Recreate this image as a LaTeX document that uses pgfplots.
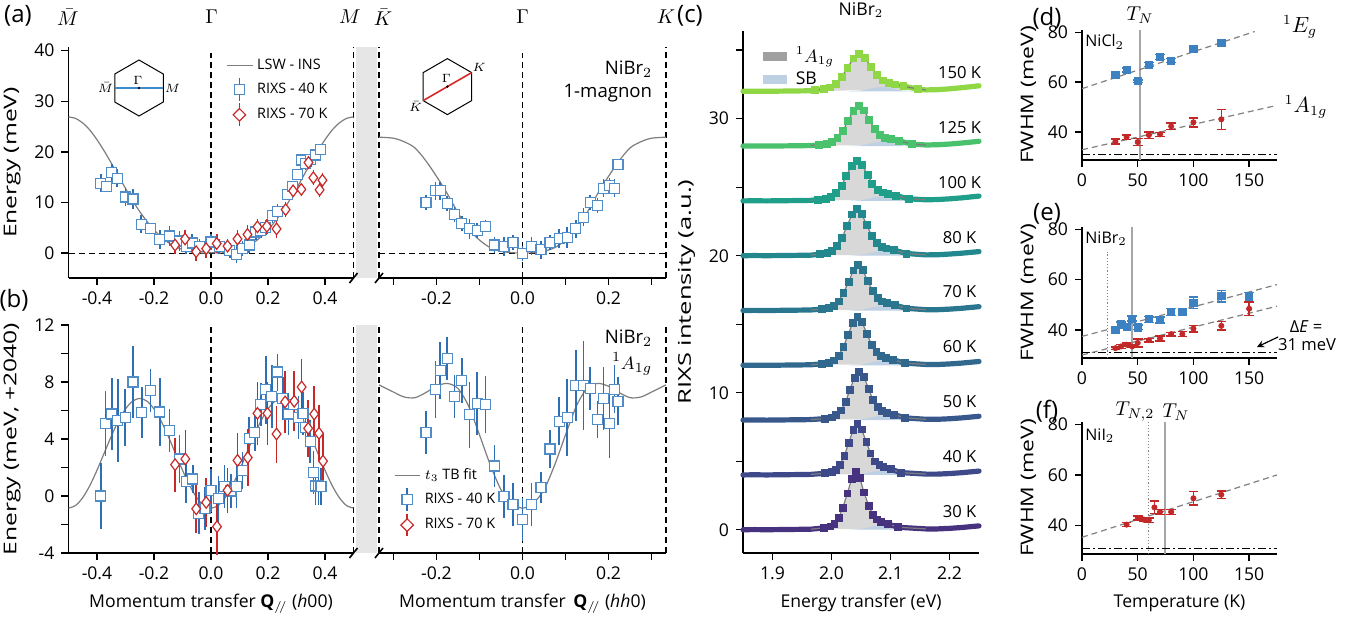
\documentclass[border=0pt]{standalone}
\usepackage{fontspec}
\setmainfont{Open Sans}
\usepackage{graphicx}
\usepackage{pgfplots}
\pgfplotsset{compat=1.18}
\usepackage{pgfplotstable}
\newcommand{\fs}[1]{\fontsize{#1}{#1}\selectfont}

\definecolor{bluem}{RGB}{80,140,200}
\definecolor{blueeb}{RGB}{45,110,180}
\definecolor{redm}{RGB}{200,40,40}
\definecolor{curvegray}{RGB}{125,125,125}
\definecolor{bandgray}{RGB}{230,230,230}
\definecolor{agray}{RGB}{216,216,216}
\definecolor{sbblue}{RGB}{190,208,228}
\definecolor{lgray}{RGB}{160,160,160}
\definecolor{hexblue}{RGB}{60,140,205}
\definecolor{hexred}{RGB}{215,40,40}
\definecolor{dblue}{RGB}{60,130,195}
\definecolor{dred}{RGB}{195,40,40}
\definecolor{c30}{RGB}{70,50,126}
\definecolor{c40}{RGB}{62,73,137}
\definecolor{c50}{RGB}{56,88,140}
\definecolor{c60}{RGB}{49,104,142}
\definecolor{c70}{RGB}{42,118,142}
\definecolor{c80}{RGB}{35,136,142}
\definecolor{c100}{RGB}{31,158,137}
\definecolor{c125}{RGB}{74,193,109}
\definecolor{c150}{RGB}{143,215,68}

\pgfplotsset{
  every axis/.append style={scale only axis,
    axis line style={line width=0.9pt},
    tick style={line width=0.7pt, black},
    major tick length=3.5pt, minor tick length=3.5pt, tick align=outside,
    tick label style={font=\fs{8.8}}, label style={font=\fs{8.8}},
    /pgf/number format/assume math mode=true},
  qaxis/.style={axis x line*=bottom, clip=false,
    xticklabel style={/pgf/number format/.cd,fixed,fixed zerofill,precision=1}},
  eb40/.style={only marks, mark=square*, mark size=2.5pt,
    mark options={draw=bluem, fill=white, line width=0.6pt},
    error bars/.cd, y dir=both, y explicit, error mark=none,
    error bar style={line width=0.8pt, blueeb}},
  eb70/.style={only marks, mark=diamond*, mark size=2.9pt,
    mark options={draw=redm, fill=white, line width=0.6pt},
    error bars/.cd, y dir=both, y explicit, error mark=none,
    error bar style={line width=0.8pt, redm}},
  fb/.style={only marks, mark=square*, mark size=1.8pt, color=dblue,
    error bars/.cd, y dir=both, y explicit,
    error bar style={line width=0.7pt},
    error mark options={rotate=90, mark size=2.4pt, line width=0.7pt}},
  fr/.style={only marks, mark=*, mark size=1.3pt, color=dred,
    error bars/.cd, y dir=both, y explicit,
    error bar style={line width=0.7pt},
    error mark options={rotate=90, mark size=2.4pt, line width=0.7pt}},
  faxis/.style={width=97.5pt, xmin=0, xmax=175, ymin=28.8, ymax=80.9,
    axis x line*=bottom, axis y line*=left, clip=false,
    xtick={0,50,100,150}, ytick={40,60,80}, ylabel={\scalebox{1.3}[1]{FWHM (meV)}},
    ylabel style={yshift=-1pt}},
}
\tikzset{dline/.style={black, line width=0.6pt, dash pattern=on 3pt off 2pt}}

% ---------- panel (a) ----------
\pgfplotstableread{
q e
-0.500 26.9
-0.475 26.6
-0.450 25.7
-0.425 24.3
-0.400 22.4
-0.375 20.2
-0.350 17.8
-0.325 15.3
-0.300 12.8
-0.275 10.4
-0.250 8.2
-0.225 6.3
-0.200 4.6
-0.175 3.2
-0.150 2.1
-0.125 1.3
-0.100 0.7
-0.075 0.3
-0.050 0.1
-0.025 0.05
0.000 0.1
0.025 0.05
0.050 0.1
0.075 0.3
0.100 0.7
0.125 1.3
0.150 2.1
0.175 3.2
0.200 4.6
0.225 6.3
0.250 8.2
0.275 10.4
0.300 12.8
0.325 15.3
0.350 17.8
0.375 20.2
0.400 22.4
0.425 24.3
0.450 25.7
0.475 26.6
0.500 26.9
}\curveA
\pgfplotstableread{
q e err
-0.387 13.8 1.8
-0.367 13.1 1.0
-0.348 15.9 1.8
-0.329 14.8 1.8
-0.300 11.1 1.8
-0.274 10.7 1.9
-0.245 5.7 1.8
-0.212 4.8 1.0
-0.180 2.7 1.8
-0.146 3.4 2.0
-0.111 2.4 2.0
-0.087 1.4 1.5
-0.066 2.0 1.8
-0.041 1.3 1.5
0.000 2.2 1.5
0.029 1.3 1.5
0.066 0.5 1.5
0.090 -0.2 1.8
0.111 0.9 1.5
0.134 1.6 1.5
0.157 4.2 1.5
0.175 4.5 1.5
0.192 5.1 1.5
0.216 7.5 1.5
0.233 8.3 1.5
0.269 11.6 1.0
0.286 13.1 1.2
0.303 15.6 1.0
0.318 18.4 1.0
0.332 17.7 1.2
0.350 18.5 1.5
0.367 19.4 1.5
0.385 20.4 1.0
}\aLblue
\pgfplotstableread{
q e err
-0.126 1.6 1.8
-0.091 2.8 1.8
-0.052 0.3 1.8
-0.017 0.9 1.8
0.020 1.9 1.8
0.058 1.4 1.5
0.093 2.8 1.8
0.128 3.7 1.8
0.163 5.2 1.5
0.196 5.3 1.5
0.230 4.8 1.8
0.262 8.6 1.5
0.288 12.3 1.3
0.317 12.6 1.3
0.342 17.9 1.3
0.359 14.9 1.5
0.381 12.5 1.5
0.391 14.4 1.5
}\aLred
\pgfplotstableread{
q e
-0.3333 22.9
-0.300 22.7
-0.275 22.0
-0.250 20.8
-0.225 18.3
-0.200 15.2
-0.175 11.8
-0.150 8.0
-0.125 4.8
-0.100 2.6
-0.075 1.1
-0.050 0.4
-0.025 0.1
0.000 0.05
0.025 0.1
0.050 0.4
0.075 1.1
0.100 2.6
0.125 4.8
0.150 8.0
0.175 11.8
0.200 15.2
0.225 18.3
0.250 20.8
0.275 22.0
0.300 22.7
0.3333 22.9
}\curveAR
\pgfplotstableread{
q e err
-0.224 10.0 1.5
-0.202 12.3 1.8
-0.191 12.3 1.8
-0.175 9.8 1.5
-0.158 7.6 1.5
-0.141 5.8 1.5
-0.123 4.8 2.0
-0.105 4.5 1.5
-0.086 5.3 1.2
-0.065 1.6 1.5
-0.043 1.3 1.8
-0.022 2.1 1.5
0.000 0.0 1.5
0.021 1.4 1.8
0.043 0.7 1.8
0.064 2.1 1.5
0.085 2.9 1.8
0.104 3.1 2.0
0.124 4.8 1.8
0.142 7.1 1.8
0.157 10.0 1.5
0.174 9.4 1.5
0.188 12.8 1.8
0.202 13.4 1.5
0.214 12.8 1.8
0.222 17.5 1.0
}\aRblue

% ---------- panel (b) ----------
\pgfplotstableread{
q e
-0.500 -0.85
-0.475 -0.66
-0.450 -0.11
-0.425 0.74
-0.400 1.81
-0.375 3.00
-0.350 4.19
-0.325 5.26
-0.300 6.11
-0.275 6.66
-0.250 6.85
-0.225 6.66
-0.200 6.11
-0.175 5.26
-0.150 4.19
-0.125 3.00
-0.100 1.81
-0.075 0.74
-0.050 -0.11
-0.025 -0.66
0.000 -0.85
0.025 -0.66
0.050 -0.11
0.075 0.74
0.100 1.81
0.125 3.00
0.150 4.19
0.175 5.26
0.200 6.11
0.225 6.66
0.250 6.85
0.275 6.66
0.300 6.11
0.325 5.26
0.350 4.19
0.375 3.00
0.400 1.81
0.425 0.74
0.450 -0.11
0.475 -0.66
0.500 -0.85
}\curveB
\pgfplotstableread{
q e err
-0.387 0.00 2.3
-0.370 5.10 2.3
-0.348 5.75 2.5
-0.327 5.30 2.9
-0.301 5.50 2.0
-0.274 8.00 2.5
-0.243 5.85 1.8
-0.212 7.40 1.5
-0.180 5.90 2.4
-0.145 4.60 1.5
-0.111 2.60 1.7
-0.087 1.00 1.5
-0.064 1.20 1.0
-0.043 -1.20 1.5
-0.021 -0.90 1.5
0.000 0.40 1.5
0.026 -0.20 1.6
0.047 0.65 1.5
0.070 0.35 1.2
0.090 0.65 1.5
0.111 1.80 1.3
0.134 4.05 1.5
0.154 4.45 1.3
0.175 6.40 1.5
0.192 7.45 2.4
0.213 7.00 2.2
0.233 8.70 1.3
0.252 6.85 1.5
0.272 5.75 1.5
0.289 6.40 1.5
0.307 5.50 1.5
0.323 5.80 1.5
0.332 4.80 1.3
0.348 3.80 1.5
0.359 1.65 1.5
0.367 0.70 1.3
0.377 0.70 1.3
0.386 0.65 1.3
}\bLblue
\pgfplotstableread{
q e err
-0.126 2.20 1.9
-0.090 2.60 2.0
-0.052 -0.90 1.7
-0.017 -0.45 1.7
0.021 -2.15 2.0
0.058 0.40 1.6
0.093 2.50 1.9
0.129 2.70 2.0
0.163 5.80 2.2
0.198 5.80 2.2
0.230 4.35 2.0
0.260 6.60 2.2
0.292 6.65 2.1
0.318 7.65 2.0
0.341 4.75 2.0
0.362 5.75 2.0
0.379 4.40 2.0
0.393 2.45 2.0
}\bLred
\pgfplotstableread{
q e
-0.3333 7.8
-0.300 7.3
-0.275 6.95
-0.250 6.9
-0.225 7.25
-0.200 7.7
-0.175 7.9
-0.150 7.55
-0.125 6.3
-0.100 4.3
-0.075 2.2
-0.050 0.45
-0.025 -0.5
0.000 -0.85
0.025 -0.5
0.050 0.45
0.075 2.2
0.100 4.3
0.125 6.3
0.150 7.55
0.175 7.9
0.200 7.7
0.225 7.25
0.250 6.9
0.275 6.95
0.300 7.3
0.3333 7.8
}\curveBR
\pgfplotstableread{
q e err
-0.224 4.45 1.5
-0.202 7.50 2.0
-0.191 8.80 2.0
-0.175 9.65 1.5
-0.158 7.00 1.5
-0.141 8.10 1.6
-0.123 5.70 2.3
-0.105 6.50 2.2
-0.086 6.45 2.0
-0.065 2.10 1.5
-0.043 -0.05 1.5
-0.022 -0.60 1.5
0.000 -1.65 1.5
0.021 -0.60 1.5
0.043 0.60 1.1
0.064 3.30 1.3
0.085 5.25 1.7
0.104 5.50 2.7
0.124 7.75 2.5
0.142 7.75 3.1
0.157 7.55 1.5
0.174 5.35 1.3
0.188 6.85 2.2
0.202 5.10 2.4
0.214 7.50 1.7
0.222 6.65 1.7
}\bRblue

% ---------- panel (c) spectra ----------
\pgfplotstableread{
x y
1.850 0.00
1.870 0.01
1.890 0.00
1.910 0.01
1.930 0.02
1.950 0.03
1.965 0.04
1.987 0.13
1.998 0.24
2.005 0.44
2.012 0.85
2.019 1.60
2.027 2.65
2.034 3.72
2.041 4.22
2.048 3.76
2.055 2.73
2.063 1.76
2.070 1.09
2.077 0.76
2.084 0.59
2.095 0.43
2.113 0.18
2.160 0.06
2.180 0.06
2.200 0.10
2.220 0.16
2.250 0.28
}\sA
\pgfplotstableread{
x y
1.850 4.00
1.870 4.01
1.890 4.00
1.910 4.01
1.930 4.02
1.950 4.03
1.965 4.04
1.989 4.12
2.000 4.21
2.007 4.39
2.014 4.75
2.022 5.41
2.029 6.34
2.037 7.29
2.044 7.72
2.051 7.32
2.059 6.42
2.066 5.57
2.074 4.99
2.081 4.71
2.088 4.56
2.100 4.42
2.118 4.17
2.160 4.06
2.180 4.06
2.200 4.10
2.220 4.16
2.250 4.28
}\sB
\pgfplotstableread{
x y
1.850 8.00
1.870 8.01
1.890 8.00
1.910 8.01
1.930 8.02
1.950 8.03
1.965 8.04
1.989 8.11
2.000 8.20
2.008 8.36
2.016 8.71
2.024 9.33
2.031 10.21
2.039 11.11
2.047 11.52
2.055 11.14
2.063 10.29
2.070 9.49
2.078 8.95
2.086 8.68
2.094 8.55
2.106 8.41
2.125 8.16
2.160 8.06
2.180 8.06
2.200 8.10
2.220 8.16
2.250 8.28
}\sC
\pgfplotstableread{
x y
1.850 12.00
1.870 12.01
1.890 12.00
1.910 12.01
1.930 12.02
1.950 12.03
1.965 12.04
1.984 12.11
1.996 12.20
2.004 12.36
2.012 12.71
2.020 13.33
2.028 14.21
2.036 15.11
2.044 15.52
2.052 15.14
2.060 14.29
2.068 13.49
2.076 12.95
2.084 12.68
2.092 12.55
2.104 12.41
2.124 12.16
2.160 12.06
2.180 12.06
2.200 12.10
2.220 12.16
2.250 12.28
}\sD
\pgfplotstableread{
x y
1.850 16.00
1.870 16.01
1.890 16.00
1.910 16.01
1.930 16.02
1.950 16.03
1.965 16.04
1.984 16.10
1.996 16.19
2.004 16.34
2.012 16.67
2.020 17.26
2.029 18.09
2.037 18.93
2.045 19.32
2.053 18.96
2.061 18.17
2.070 17.42
2.078 16.91
2.086 16.66
2.094 16.54
2.107 16.40
2.127 16.16
2.160 16.06
2.180 16.06
2.200 16.10
2.220 16.16
2.250 16.28
}\sE
\pgfplotstableread{
x y
1.850 20.00
1.870 20.01
1.890 20.00
1.910 20.01
1.930 20.02
1.950 20.03
1.965 20.04
1.980 20.11
1.993 20.19
2.001 20.35
2.009 20.69
2.018 21.30
2.026 22.15
2.035 23.02
2.043 23.42
2.051 23.05
2.060 22.23
2.068 21.46
2.077 20.93
2.085 20.67
2.093 20.54
2.106 20.41
2.127 20.16
2.160 20.06
2.180 20.07
2.200 20.12
2.220 20.18
2.250 20.30
}\sF
\pgfplotstableread{
x y
1.850 24.00
1.870 24.01
1.890 24.00
1.910 24.01
1.930 24.02
1.950 24.03
1.965 24.04
1.977 24.09
1.990 24.17
1.999 24.30
2.008 24.59
2.017 25.11
2.025 25.83
2.034 26.58
2.043 26.92
2.052 26.61
2.061 25.91
2.069 25.27
2.078 24.83
2.087 24.62
2.096 24.52
2.109 24.39
2.131 24.15
2.160 24.08
2.180 24.10
2.200 24.15
2.220 24.22
2.250 24.35
}\sG
\pgfplotstableread{
x y
1.850 28.00
1.870 28.01
1.890 28.00
1.910 28.01
1.930 28.02
1.950 28.03
1.965 28.04
1.979 28.09
1.992 28.17
2.001 28.30
2.010 28.59
2.019 29.11
2.028 29.83
2.037 30.58
2.046 30.92
2.055 30.61
2.064 29.91
2.073 29.27
2.082 28.83
2.091 28.62
2.100 28.52
2.114 28.39
2.136 28.15
2.160 28.08
2.180 28.10
2.200 28.15
2.220 28.22
2.250 28.35
}\sH
\pgfplotstableread{
x y
1.850 32.00
1.870 32.01
1.890 32.00
1.910 32.01
1.930 32.02
1.950 32.03
1.965 32.04
1.972 32.08
1.987 32.15
1.997 32.28
2.007 32.55
2.017 33.03
2.027 33.71
2.037 34.40
2.047 34.72
2.057 34.43
2.067 33.79
2.077 33.19
2.087 32.79
2.097 32.60
2.107 32.50
2.122 32.38
2.147 32.15
2.160 32.10
2.180 32.12
2.200 32.18
2.220 32.26
2.250 32.40
}\sI
\pgfplotstableread{
x y0 y1 y2 y3 y4 y5 y6 y7 y8
2.030 0.00 4.00 8.00 12.00 16.00 20.00 24.00 28.00 32.00
2.050 0.05 4.05 8.05 12.05 16.05 20.05 24.05 28.05 32.05
2.060 0.13 4.13 8.13 12.13 16.13 20.13 24.13 28.13 32.13
2.070 0.24 4.24 8.24 12.24 16.24 20.24 24.24 28.24 32.24
2.085 0.33 4.33 8.33 12.33 16.33 20.33 24.33 28.33 32.33
2.100 0.24 4.24 8.24 12.24 16.24 20.24 24.24 28.24 32.24
2.110 0.13 4.13 8.13 12.13 16.13 20.13 24.13 28.13 32.13
2.120 0.05 4.05 8.05 12.05 16.05 20.05 24.05 28.05 32.05
2.140 0.00 4.00 8.00 12.00 16.00 20.00 24.00 28.00 32.00
}\sbtab

% #1 table, #2 colour, #3 left end, #4 right start, #5 SB column, #6 label, #7 label y
\newcommand{\spec}[7]{%
  \addplot[fill=agray, draw=none, restrict x to domain=1.96:2.165] table[x=x,y=y] {#1} -- cycle;
  \addplot[fill=sbblue, draw=none] table[x=x, y=#5] {\sbtab} -- cycle;
  \addplot[#2, line width=2.6pt, line cap=round, restrict x to domain=1.84:#3] table[x=x,y=y] {#1};
  \addplot[#2, line width=2.6pt, line cap=round, restrict x to domain=#4:2.26] table[x=x,y=y] {#1};
  \addplot[only marks, mark=square*, mark size=1.7pt, color=#2, mark options={draw=#2, fill=#2}, restrict x to domain=1.97:2.15] table[x=x,y=y] {#1};
  \addplot[curvegray, line width=0.6pt, restrict x to domain=1.96:2.165] table[x=x,y=y] {#1};
  \node[font=\fs{8.3}] at (axis cs:2.217,#7) {#6};
}

\begin{document}
\begin{tikzpicture}
\useasboundingbox (0,0) rectangle (679.5pt,-309pt);
% grey break bands
\fill[bandgray] (178pt,-23.5pt) rectangle (188.5pt,-139pt);
\fill[bandgray] (178pt,-162.5pt) rectangle (188.5pt,-276.5pt);

% ===== (a) left =====
\begin{axis}[qaxis, at={(34.25pt,-23.5pt)}, anchor=north west, width=142.5pt, height=115.5pt,
  xmin=-0.5, xmax=0.5, ymin=-4.9, ymax=40.7, axis y line*=left,
  xtick={-0.4,-0.2,0,0.2,0.4}, ytick={0,10,20,30,40},
  ylabel={\scalebox{1.4}[1]{Energy (meV)}},
  legend cell align=left,
  legend style={font=\fs{7.2}, draw=none, fill=none, at={(0.945,0.985)}, anchor=north east, row sep=0.5pt}]
\addlegendimage{legend image code/.code={\draw[curvegray, line width=0.6pt] (0cm,0cm)--(0.45cm,0cm);}}
\addlegendentry{LSW - INS}
\addlegendimage{legend image code/.code={\draw[blueeb, line width=0.8pt] (0.22cm,-0.2cm)--(0.22cm,0.2cm); \draw[bluem, line width=0.6pt, fill=white] (0.13cm,-0.09cm) rectangle (0.31cm,0.09cm);}}
\addlegendentry{RIXS - 40 K}
\addlegendimage{legend image code/.code={\draw[redm, line width=0.8pt] (0.22cm,-0.2cm)--(0.22cm,0.2cm); \draw[redm, line width=0.6pt, fill=white] (0.22cm,-0.11cm)--(0.33cm,0cm)--(0.22cm,0.11cm)--(0.11cm,0cm)--cycle;}}
\addlegendentry{RIXS - 70 K}
\draw[dline] (axis cs:0,-4.9) -- (axis cs:0,39.5);
\draw[dline] (axis cs:0.5,-4.9) -- (axis cs:0.5,40.7);
\draw[dline] (axis cs:-0.5,0) -- (axis cs:0.5,0);
\addplot[curvegray, line width=0.6pt, smooth] table[x=q,y=e] {\curveA};
\addplot[eb40] table[x=q,y=e,y error=err] {\aLblue};
\addplot[eb70] table[x=q,y=e,y error=err] {\aLred};
\end{axis}

% ===== (a) right =====
\begin{axis}[qaxis, at={(189.5pt,-23.5pt)}, anchor=north west, width=143.5pt, height=115.5pt,
  xmin=-0.3333, xmax=0.3333, ymin=-4.9, ymax=40.7, axis y line=none,
  xtick={-0.2,0,0.2}, minor xtick={-0.3,-0.1,0.1,0.3}]
\draw[dline] (axis cs:0,-4.9) -- (axis cs:0,39.5);
\draw[dline] (axis cs:-0.3333,-4.9) -- (axis cs:-0.3333,40.7);
\draw[dline] (axis cs:0.3333,-4.9) -- (axis cs:0.3333,40.7);
\draw[dline] (axis cs:-0.3333,0) -- (axis cs:0.3333,0);
\addplot[curvegray, line width=0.6pt, smooth] table[x=q,y=e] {\curveAR};
\addplot[eb40] table[x=q,y=e,y error=err] {\aRblue};
\node[anchor=north east, align=right, inner sep=1pt, font=\fontsize{9.3}{11.5}\selectfont] at (rel axis cs:0.96,0.95) {NiBr$_2$\\1-magnon};
\end{axis}

% ===== (b) left =====
\begin{axis}[qaxis, at={(34.25pt,-162.5pt)}, anchor=north west, width=142.5pt, height=114pt,
  xmin=-0.5, xmax=0.5, ymin=-4, ymax=12, axis y line*=left,
  xtick={-0.4,-0.2,0,0.2,0.4}, ytick={-4,0,4,8,12}, minor ytick={-2,2,6,10},
  ylabel={\scalebox{1.4}[1]{Energy (meV, +2040)}},
  xlabel={Momentum transfer \textbf{Q}$_{/\!/}$ (\textit{h}00)}]
\draw[dline] (axis cs:0,-4) -- (axis cs:0,12);
\draw[dline] (axis cs:0.5,-4) -- (axis cs:0.5,12);
\addplot[curvegray, line width=0.6pt, smooth] table[x=q,y=e] {\curveB};
\addplot[eb40] table[x=q,y=e,y error=err] {\bLblue};
\addplot[eb70] table[x=q,y=e,y error=err] {\bLred};
\end{axis}

% ===== (b) right =====
\begin{axis}[qaxis, at={(189.5pt,-162.5pt)}, anchor=north west, width=143.5pt, height=114pt,
  xmin=-0.3333, xmax=0.3333, ymin=-4, ymax=12, axis y line=none,
  xtick={-0.2,0,0.2}, minor xtick={-0.3,-0.1,0.1,0.3},
  xlabel={Momentum transfer \,\textbf{Q}$_{/\!/}$ (\textit{hh}0)},
  legend cell align=left,
  legend style={font=\fs{7.2}, draw=none, fill=none, at={(0.03,0.05)}, anchor=south west, row sep=0.5pt}]
\addlegendimage{legend image code/.code={\draw[curvegray, line width=0.6pt] (0cm,0cm)--(0.45cm,0cm);}}
\addlegendentry{$t_3$ TB fit}
\addlegendimage{legend image code/.code={\draw[blueeb, line width=0.8pt] (0.22cm,-0.2cm)--(0.22cm,0.2cm); \draw[bluem, line width=0.6pt, fill=white] (0.13cm,-0.09cm) rectangle (0.31cm,0.09cm);}}
\addlegendentry{RIXS - 40 K}
\addlegendimage{legend image code/.code={\draw[redm, line width=0.8pt] (0.22cm,-0.2cm)--(0.22cm,0.2cm); \draw[redm, line width=0.6pt, fill=white] (0.22cm,-0.11cm)--(0.33cm,0cm)--(0.22cm,0.11cm)--(0.11cm,0cm)--cycle;}}
\addlegendentry{RIXS - 70 K}
\draw[dline] (axis cs:0,-4) -- (axis cs:0,12);
\draw[dline] (axis cs:-0.3333,-4) -- (axis cs:-0.3333,12);
\draw[dline] (axis cs:0.3333,-4) -- (axis cs:0.3333,12);
\addplot[curvegray, line width=0.6pt, smooth] table[x=q,y=e] {\curveBR};
\addplot[eb40] table[x=q,y=e,y error=err] {\bRblue};
\node[anchor=north east, align=right, inner sep=1pt, font=\fontsize{9.3}{13}\selectfont] at (rel axis cs:0.96,0.99) {NiBr$_2$\\$^1A_{1g}$};
\end{axis}

% ===== (c) =====
\begin{axis}[at={(371.5pt,-15.5pt)}, anchor=north west, width=118pt, height=261pt,
  xmin=1.85, xmax=2.25, ymin=-1.7, ymax=36.4, clip=false,
  axis x line*=bottom, axis y line*=left,
  xtick={1.9,2.0,2.1,2.2}, ytick={0,5,10,15,20,25,30,35}, yticklabels={0,,10,,20,,30,},
  xticklabel style={/pgf/number format/.cd,fixed,fixed zerofill,precision=1},
  ylabel={\scalebox{1.45}[1]{RIXS intensity (a.u.)}}, xlabel={Energy transfer (eV)},
  title={NiBr$_2$}, title style={font=\fs{8.8}, yshift=-3pt},
  legend cell align=left,
  legend style={font=\fs{8.8}, draw=none, fill=none, at={(0.04,0.985)}, anchor=north west, row sep=-1pt}]
\addlegendimage{legend image code/.code={\draw[lgray, line width=4.5pt] (0cm,0cm)--(0.42cm,0cm);}}
\addlegendentry{$^1A_{1g}$}
\addlegendimage{legend image code/.code={\draw[sbblue, line width=4.5pt] (0cm,0cm)--(0.42cm,0cm);}}
\addlegendentry{SB}
\spec{\sA}{c30}{2.0005}{2.076}{y0}{30 K}{1.35}
\spec{\sB}{c40}{2.0005}{2.080}{y1}{40 K}{5.35}
\spec{\sC}{c50}{2.0005}{2.085}{y2}{50 K}{9.35}
\spec{\sD}{c60}{1.9965}{2.083}{y3}{60 K}{13.35}
\spec{\sE}{c70}{1.9965}{2.085}{y4}{70 K}{17.35}
\spec{\sF}{c80}{1.9935}{2.084}{y5}{80 K}{21.35}
\spec{\sG}{c100}{1.9905}{2.086}{y6}{100 K}{25.35}
\spec{\sH}{c125}{1.9925}{2.090}{y7}{125 K}{29.35}
\spec{\sI}{c150}{1.9875}{2.096}{y8}{150 K}{33.35}
\end{axis}

% ===== (d) =====
\begin{axis}[faxis, at={(541pt,-15pt)}, anchor=north west, height=65pt]
\draw[gray!70, line width=1pt] (axis cs:52,28.8) -- (axis cs:52,80.9);
\draw[black, line width=0.6pt, dash pattern=on 4pt off 1.5pt on 1pt off 1.5pt] (axis cs:0,31) -- (axis cs:175,31);
\addplot[gray, line width=0.6pt, dash pattern=on 3pt off 2pt] coordinates {(0,57.4) (155,80.3)};
\addplot[gray, line width=0.6pt, dash pattern=on 3pt off 2pt] coordinates {(0,32.9) (175,50.7)};
\addplot[fb] coordinates {(30,62.8) +- (0,0.8) (40,64.8) +- (0,0.8) (50,60.4) +- (0,0.5) (60,67.0) +- (0,0.8) (70,70.1) +- (0,0.9) (80,68.6) +- (0,0.8) (100,73.2) +- (0,0.9) (125,75.6) +- (0,0.9)};
\addplot[fr] coordinates {(30,36.2) +- (0,1.0) (40,38.0) +- (0,0.9) (50,36.0) +- (0,1.4) (60,38.8) +- (0,1.3) (70,39.1) +- (0,0.8) (80,42.3) +- (0,1.3) (100,43.9) +- (0,1.8) (125,45.1) +- (0,4.0)};
\end{axis}

% ===== (e) =====
\begin{axis}[faxis, at={(541pt,-113.5pt)}, anchor=north west, height=65.5pt]
\draw[gray!70, line width=1pt] (axis cs:44.7,28.8) -- (axis cs:44.7,80.9);
\draw[gray, line width=0.6pt, densely dotted] (axis cs:23,28.8) -- (axis cs:23,71);
\draw[black, line width=0.6pt, dash pattern=on 4pt off 1.5pt on 1pt off 1.5pt] (axis cs:0,31) -- (axis cs:175,31);
\addplot[gray, line width=0.6pt, dash pattern=on 3pt off 2pt] coordinates {(0,37.4) (175,58.0)};
\addplot[gray, line width=0.6pt, dash pattern=on 3pt off 2pt] coordinates {(0,30.0) (175,49.4)};
\addplot[fb] coordinates {(30,40.0) +- (0,0.8) (35,42.2) +- (0,1.0) (40,41.3) +- (0,0.7) (45,44.5) +- (0,1.0) (50,41.0) +- (0,0.9) (60,44.2) +- (0,1.2) (70,43.9) +- (0,1.2) (80,47.1) +- (0,1.4) (90,47.1) +- (0,1.5) (100,50.8) +- (0,2.2) (125,53.4) +- (0,2.3) (150,53.1) +- (0,1.8)};
\addplot[fr] coordinates {(30,32.7) +- (0,0.5) (35,33.4) +- (0,0.8) (40,34.1) +- (0,0.6) (45,33.4) +- (0,0.5) (50,34.8) +- (0,1.6) (60,35.9) +- (0,0.7) (70,36.6) +- (0,1.0) (80,38.3) +- (0,0.7) (90,38.3) +- (0,1.0) (100,40.5) +- (0,1.3) (125,41.6) +- (0,1.7) (150,48.4) +- (0,2.6)};
\end{axis}

% ===== (f) =====
\begin{axis}[faxis, at={(541pt,-211pt)}, anchor=north west, height=66pt, xlabel={Temperature (K)}]
\draw[gray!70, line width=1pt] (axis cs:74.8,28.8) -- (axis cs:74.8,80.9);
\draw[gray, line width=0.6pt, densely dotted] (axis cs:60,28.8) -- (axis cs:60,80.9);
\draw[black, line width=0.6pt, dash pattern=on 4pt off 1.5pt on 1pt off 1.5pt] (axis cs:0,31) -- (axis cs:175,31);
\addplot[gray, line width=0.6pt, dash pattern=on 3pt off 2pt] coordinates {(0,35.4) (175,60.0)};
\addplot[fr] coordinates {(40,40.4) +- (0,0.8) (50,43.0) +- (0,0.8) (55,42.4) +- (0,0.6) (60,42.1) +- (0,0.9) (65,47.2) +- (0,2.5) (70,45.4) +- (0,1.0) (80,45.4) +- (0,0.9) (100,50.8) +- (0,2.6) (125,52.2) +- (0,1.5)};
\end{axis}

% ===== decorations =====
\foreach \xx in {176.75pt,189.5pt}{
  \draw[line width=0.8pt] (\xx,-139pt) ++(-2pt,-2.5pt) -- ++(4pt,5pt);
  \draw[line width=0.8pt] (\xx,-276.5pt) ++(-2pt,-2.5pt) -- ++(4pt,5pt);
}
\node[font=\fs{10}, inner sep=0.5pt] at (34pt,-8.5pt) {$\bar{M}$};
\node[font=\fs{10}, inner sep=0.5pt] at (105.75pt,-8.5pt) {$\Gamma$};
\node[font=\fs{10}, inner sep=0.5pt] at (175pt,-8.5pt) {$M$};
\node[font=\fs{10}, inner sep=0.5pt] at (191.5pt,-8.5pt) {$\bar{K}$};
\node[font=\fs{10}, inner sep=0.5pt] at (261.25pt,-8.5pt) {$\Gamma$};
\node[font=\fs{10}, inner sep=0.5pt] at (333pt,-8.5pt) {$K$};
\node[font=\fs{12}, inner sep=0.5pt] at (9pt,-8pt) {(a)};
\node[font=\fs{12}, inner sep=0.5pt] at (7pt,-150pt) {(b)};
\node[font=\fs{12}, inner sep=0.5pt] at (345pt,-8pt) {(c)};
\node[font=\fs{12}, inner sep=0.5pt] at (523.5pt,-9pt) {(d)};
\node[font=\fs{12}, inner sep=0.5pt] at (523.5pt,-107pt) {(e)};
\node[font=\fs{12}, inner sep=0.5pt] at (523.5pt,-205.5pt) {(f)};
\begin{scope}[shift={(69.5pt,-44pt)}]
  \draw[line width=0.5pt] (90:14pt) -- (150:14pt) -- (210:14pt) -- (270:14pt) -- (330:14pt) -- (30:14pt) -- cycle;
  \draw[hexblue, line width=0.8pt] (180:12.12pt) -- (0:12.12pt);
  \fill (0,0) circle (0.7pt);
  \node[font=\fs{6.5}, inner sep=0.3pt, anchor=south] at (-0.5pt,1.4pt) {$\Gamma$};
  \node[font=\fs{6.5}, inner sep=0.3pt, anchor=east] at (-12.4pt,0) {$\bar{M}$};
  \node[font=\fs{6.5}, inner sep=0.3pt, anchor=west] at (12.4pt,0) {$M$};
\end{scope}
\begin{scope}[shift={(223.7pt,-43.3pt)}]
  \draw[line width=0.5pt] (90:14pt) -- (150:14pt) -- (210:14pt) -- (270:14pt) -- (330:14pt) -- (30:14pt) -- cycle;
  \draw[hexred, line width=0.8pt] (210:14pt) -- (30:14pt);
  \fill (0,0) circle (0.7pt);
  \node[font=\fs{6.5}, inner sep=0.3pt, anchor=south] at (-0.5pt,1.8pt) {$\Gamma$};
  \node[font=\fs{6.5}, inner sep=0.3pt, anchor=north east] at (210:14pt) {$\bar{K}$};
  \node[font=\fs{6.5}, inner sep=0.3pt, anchor=south west] at (30:14pt) {$K$};
\end{scope}
\node[font=\fs{10}, inner sep=0.5pt] at (570pt,-7.5pt) {$T_N$};
\node[font=\fs{10.5}, inner sep=0.5pt] at (650pt,-13.5pt) {$^1E_g$};
\node[font=\fs{10.5}, inner sep=0.5pt] at (653pt,-53.5pt) {$^1A_{1g}$};
\node[font=\fs{8}, anchor=west, inner sep=0pt] at (542.5pt,-21pt) {NiCl$_2$};
\node[font=\fs{8}, anchor=west, inner sep=0pt] at (542.5pt,-119.5pt) {NiBr$_2$};
\node[font=\fs{8}, anchor=west, inner sep=0pt] at (542.5pt,-218pt) {NiI$_2$};
\node[font=\fs{8.3}, inner sep=0.5pt] at (653pt,-163.5pt) {Δ\textit{E} =};
\node[font=\fs{8.3}, inner sep=0.5pt] at (653.5pt,-172.5pt) {31 meV};
\draw[-stealth, line width=0.6pt] (639pt,-168.5pt) -- (628.5pt,-173.5pt);
\node[font=\fs{10}, inner sep=0.5pt] at (567.5pt,-206pt) {$T_{N,2}$};
\node[font=\fs{10}, inner sep=0.5pt] at (588pt,-206pt) {$T_N$};
\end{tikzpicture}
\end{document}
